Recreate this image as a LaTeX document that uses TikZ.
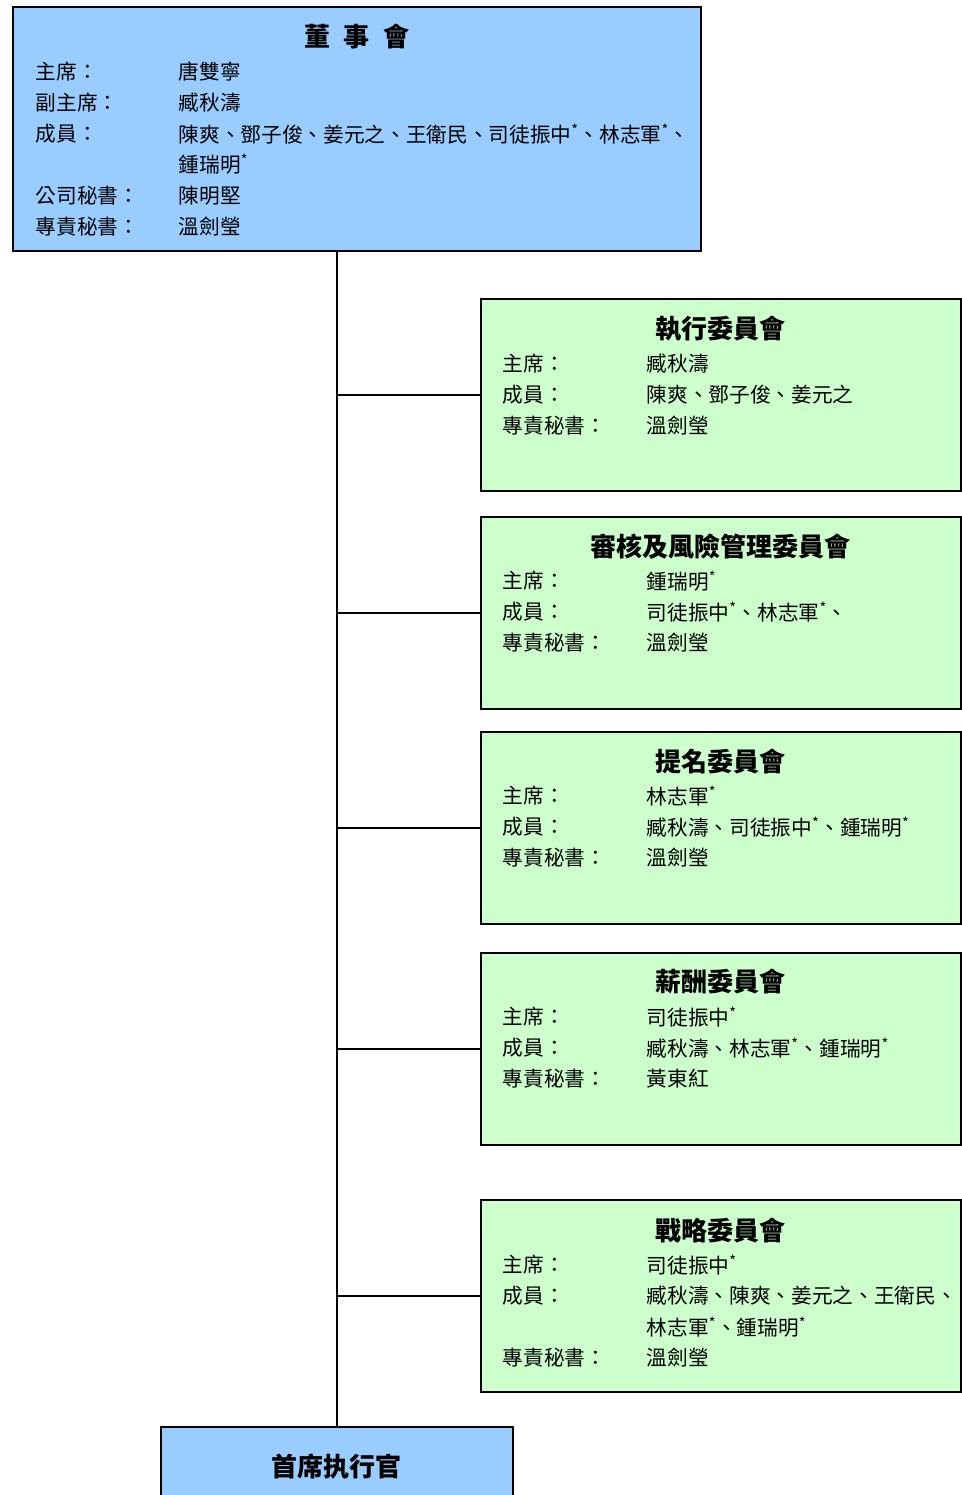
\documentclass[tikz,border=0pt]{standalone}
\usepackage{fontspec}
\setmainfont{Noto Sans CJK TC}

\definecolor{boardblue}{HTML}{99CCFF}
\definecolor{cmtgreen}{HTML}{CCFFCC}

\begin{document}
\begin{tikzpicture}[x=0.75pt, y=-0.75pt, line width=1.2pt,
		box/.style={draw, anchor=north west, inner sep=0pt},
		board/.style={box, fill=boardblue, minimum width=516pt, minimum height=183pt},
		cmt/.style={box, fill=cmtgreen, minimum width=360pt, minimum height=144pt},
		ttl/.style={inner sep=0pt, font=\bfseries\fontsize{19.5}{22}\selectfont},
		txt/.style={anchor=west, inner sep=0pt, font=\fontsize{15.5}{18}\selectfont}]
			\fill[white] (0,0) rectangle (962,1495);
			\useasboundingbox (0,0) rectangle (962,1495);

			% boxes
			\node[board] (brd) at (12,6) {};
			\node[box, fill=boardblue, minimum width=264pt, minimum height=75pt] (ceo) at (160,1426) {};
			\node[cmt] (c1) at (480,298) {};
			\node[cmt] (c2) at (480,516) {};
			\node[cmt] (c3) at (480,731) {};
			\node[cmt] (c4) at (480,952) {};
			\node[cmt] (c5) at (480,1199) {};

			% connectors
			\draw (ceo.north) -- (ceo.north |- brd.south);
			\foreach \c in {c1,c2,c3,c4,c5}
				\draw (\c.west) -- (\c.west -| ceo.north);

			% titles
			\node[ttl] (brd-t) at (357,37) {董\hspace{10pt}事\hspace{10pt}會};
			\node[ttl] (c1-t) at (720,329) {執行委員會};
			\node[ttl] (c2-t) at (720,547) {審核及風險管理委員會};
			\node[ttl] (c3-t) at (720,761) {提名委員會};
			\node[ttl] (c4-t) at (720,982) {薪酬委員會};
			\node[ttl] (c5-t) at (720,1230) {戰略委員會};
			\node[ttl] (ceo-t) at (336,1467) {首席执行官};

			% board rows
			\foreach \y/\l [count=\i] in {72/主席：, 103/副主席：, 134/成員：, 196/公司秘書：, 227/專責秘書：}
				\node[txt] (brd-l\i) at (35,\y) {\l};
			\foreach \y/\v [count=\i] in {72/唐雙寧, 103/臧秋濤,
					134/陳爽、鄧子俊、姜元之、王衛民、司徒振中\textsuperscript{*}、林志軍\textsuperscript{*}、,
					164/鍾瑞明\textsuperscript{*}, 196/陳明堅, 227/溫劍瑩}
				\node[txt] (brd-v\i) at (178,\y) {\v};

			% committee rows
			\foreach \y/\l/\v [count=\i] in {364/主席：/臧秋濤, 395/成員：/陳爽、鄧子俊、姜元之, 426/專責秘書：/溫劍瑩}
				{\node[txt] (c1-l\i) at (502,\y) {\l}; \node[txt] (c1-v\i) at (646,\y) {\v};}
			\foreach \y/\l/\v [count=\i] in {581/主席：/鍾瑞明\textsuperscript{*},
					612/成員：/司徒振中\textsuperscript{*}、林志軍\textsuperscript{*}、, 643/專責秘書：/溫劍瑩}
				{\node[txt] (c2-l\i) at (502,\y) {\l}; \node[txt] (c2-v\i) at (646,\y) {\v};}
			\foreach \y/\l/\v [count=\i] in {796/主席：/林志軍\textsuperscript{*},
					827/成員：/臧秋濤、司徒振中\textsuperscript{*}、鍾瑞明\textsuperscript{*}, 858/專責秘書：/溫劍瑩}
				{\node[txt] (c3-l\i) at (502,\y) {\l}; \node[txt] (c3-v\i) at (646,\y) {\v};}
			\foreach \y/\l/\v [count=\i] in {1017/主席：/司徒振中\textsuperscript{*},
					1048/成員：/臧秋濤、林志軍\textsuperscript{*}、鍾瑞明\textsuperscript{*}, 1079/專責秘書：/黃東紅}
				{\node[txt] (c4-l\i) at (502,\y) {\l}; \node[txt] (c4-v\i) at (646,\y) {\v};}
			\foreach \y/\l [count=\i] in {1265/主席：, 1296/成員：, 1358/專責秘書：}
				\node[txt] (c5-l\i) at (502,\y) {\l};
			\foreach \y/\v [count=\i] in {1265/司徒振中\textsuperscript{*}, 1296/臧秋濤、陳爽、姜元之、王衛民、,
					1327/林志軍\textsuperscript{*}、鍾瑞明\textsuperscript{*}, 1358/溫劍瑩}
				\node[txt] (c5-v\i) at (646,\y) {\v};
		\end{tikzpicture}
\end{document}
